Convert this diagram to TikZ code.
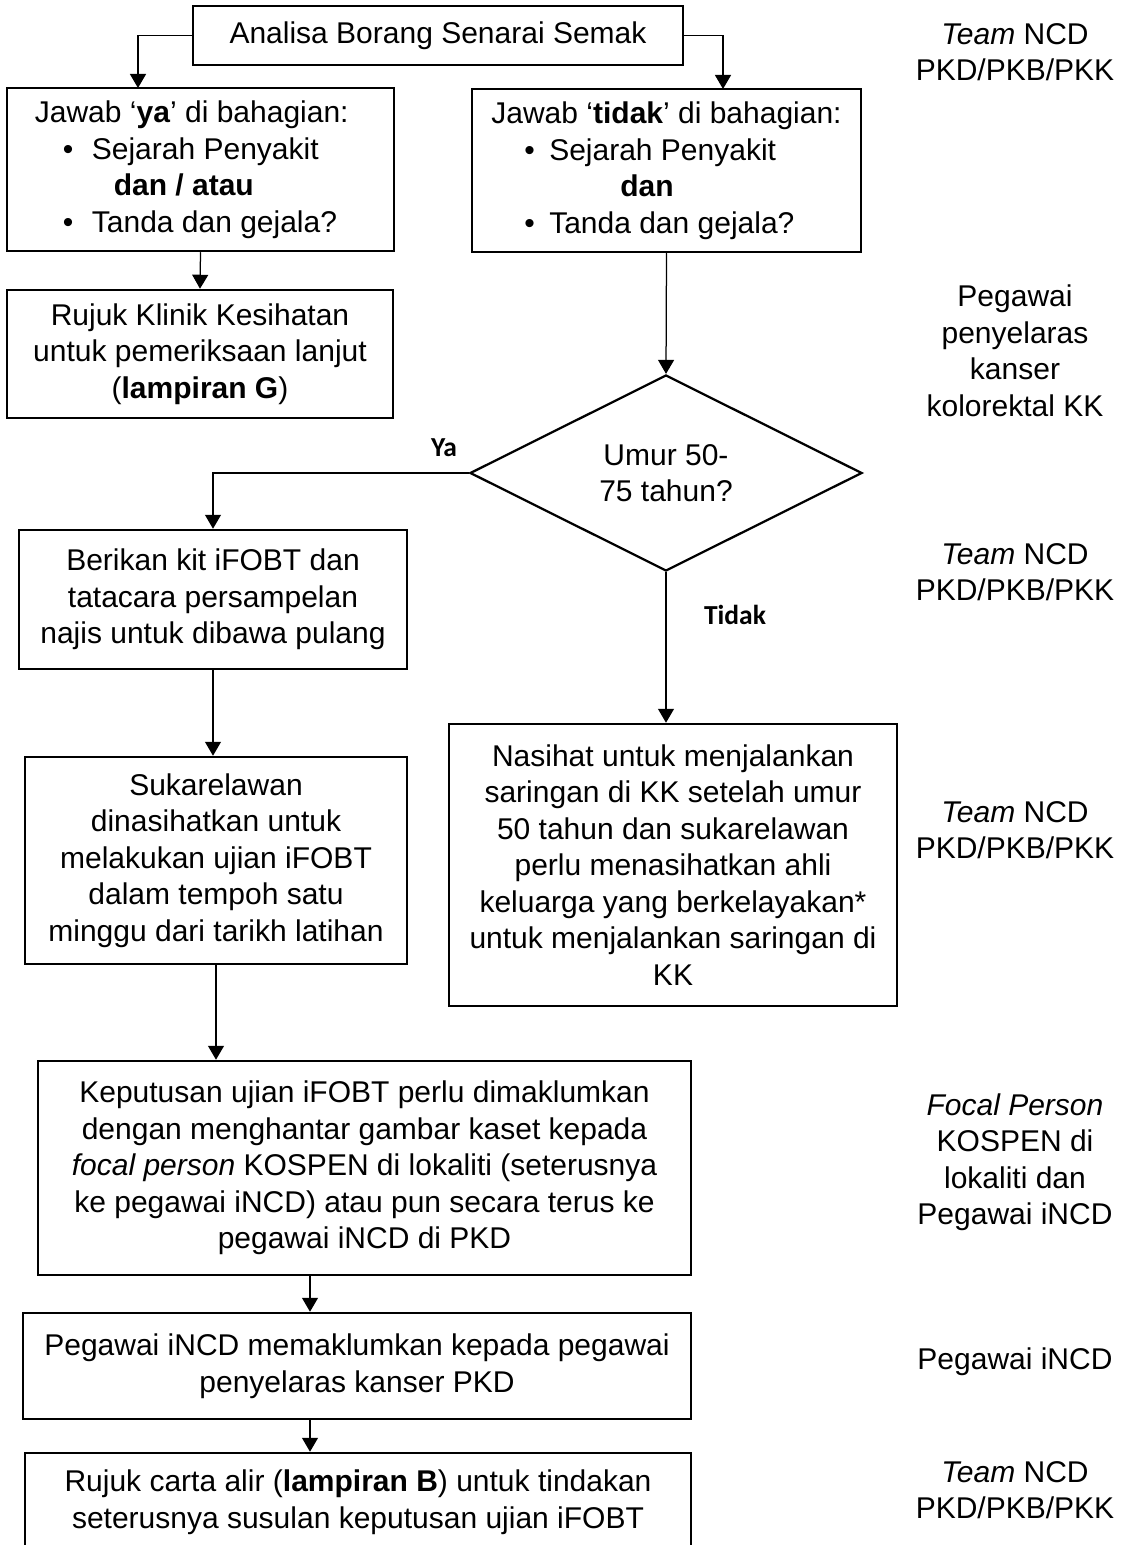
\documentclass[tikz,border=0pt]{standalone}
\usepackage{fontspec}
\setmainfont{Liberation Sans}
\newfontfamily\calibri{Carlito}
\usetikzlibrary{shapes.geometric,arrows.meta}
\newcommand\pxu{0.4pt}
\tikzset{
	flowbox/.style 2 args={draw, line width=1pt, minimum width=#1*\pxu,
	minimum height=#2*\pxu, inner sep=0pt, align=center},
	arr/.style={-{Triangle[length=5.6pt,width=6.4pt]}, line width=0.5pt},
	tag/.style={align=center},
	yesno/.style={font=\calibri\bfseries\fontsize{11}{13}\selectfont}
}
\begin{document}
\begin{tikzpicture}[x=\pxu, y=-\pxu, font=\fontsize{12}{14.6}\selectfont]
	\useasboundingbox (0,0) rectangle (1131,1545);
	\clip (0,0) rectangle (1131,1545);
	% Kotak aliran
	\node[flowbox={490}{59}] (A) at (438,35.5) {Analisa Borang Senarai Semak};
	\node[flowbox={387}{163}, align=left] (B) at (200.5,169.5)
	{Jawab ‘\textbf{ya}’ di bahagian:\hspace*{7pt}\\
	\hspace*{0.93em}\makebox[0.97em][l]{\textbullet}Sejarah Penyakit\\
	\hspace*{2.63em}\textbf{dan / atau}\\
	\hspace*{0.93em}\makebox[0.97em][l]{\textbullet}Tanda dan gejala?};
	\node[flowbox={389}{163}, align=left] (C) at (666.5,170.5)
	{Jawab ‘\textbf{tidak}’ di bahagian:\\
	\hspace*{1.1em}\makebox[0.83em][l]{\textbullet}Sejarah Penyakit\\
	\hspace*{4.3em}\textbf{dan}\\
	\hspace*{1.1em}\makebox[0.83em][l]{\textbullet}Tanda dan gejala?};
	\node[flowbox={386}{128}] (D) at (200,354)
	{Rujuk Klinik Kesihatan\\untuk pemeriksaan lanjut\\(\textbf{lampiran G})};
	\node[diamond, draw, line width=0.9pt, shape aspect=2, minimum width=392*\pxu,
	minimum height=196*\pxu, align=center] (Q) at (666,473) {Umur 50-\\75 tahun?};
	\node[flowbox={388}{139}] (E) at (213,599.5)
	{Berikan kit iFOBT dan\\tatacara persampelan\\najis untuk dibawa pulang};
	\node[flowbox={448}{282}] (F) at (673,865)
	{Nasihat untuk menjalankan\\saringan di KK setelah umur\\50 tahun dan sukarelawan\\
	perlu menasihatkan ahli\\keluarga yang berkelayakan*\\untuk menjalankan saringan di\\KK};
	\node[flowbox={382}{207}] (G) at (216,860.5)
	{Sukarelawan\\dinasihatkan untuk\\melakukan ujian iFOBT\\dalam tempoh satu\\
	minggu dari tarikh latihan};
	\node[flowbox={653}{214}] (H) at (364.5,1168)
	{Keputusan ujian iFOBT perlu dimaklumkan\\dengan menghantar gambar kaset kepada\\
	\textit{focal person} KOSPEN di lokaliti (seterusnya\\ke pegawai iNCD) atau pun secara terus ke\\
	pegawai iNCD di PKD};
	\node[flowbox={668}{106}] (I) at (357,1366)
	{Pegawai iNCD memaklumkan kepada pegawai\\penyelaras kanser PKD};
	\node[flowbox={666}{98}] (J) at (358,1502)
	{Rujuk carta alir (\textbf{lampiran B}) untuk tindakan\\seterusnya susulan keputusan ujian iFOBT};
	% Label keputusan
	\node[yesno] (ya) at (444,448) {Ya};
	\node[yesno] (tidak) at (735,615) {Tidak};
	% Anak panah
	\coordinate (bIn) at (138,88);
	\coordinate (cIn) at (723,89);
	\draw[arr] (A.west) -| (bIn);
	\draw[arr] (A.east) -| (cIn);
	\draw[arr] (B.south) -- (D.north);
	\draw[arr] (C.south) -- (Q.north);
	\draw[arr] (Q.west) -| (E.north);
	\draw[arr] (Q.south) -- (Q.south |- F.north);
	\draw[arr] (E.south) -- (E.south |- G.north);
	\draw[arr] (G.south) -- (G.south |- H.north);
	\draw[arr] (H.south -| 310,0) -- (I.north -| 310,0);
	\draw[arr] (I.south -| 310,0) -- (J.north -| 310,0);
	% Pegawai bertanggungjawab
	\node[tag] (tag1) at (1015,52) {\textit{Team} NCD\\PKD/PKB/PKK};
	\node[tag] (tag2) at (1015,351) {Pegawai\\penyelaras\\kanser\\kolorektal KK};
	\node[tag] (tag3) at (1015,572) {\textit{Team} NCD\\PKD/PKB/PKK};
	\node[tag] (tag4) at (1015,830) {\textit{Team} NCD\\PKD/PKB/PKK};
	\node[tag] (tag5) at (1015,1162) {\textit{Focal Person}\\KOSPEN di\\lokaliti dan\\Pegawai iNCD};
	\node[tag] (tag6) at (1015,1362) {Pegawai iNCD};
	\node[tag] (tag7) at (1015,1490) {\textit{Team} NCD\\PKD/PKB/PKK};
\end{tikzpicture}
\end{document}
